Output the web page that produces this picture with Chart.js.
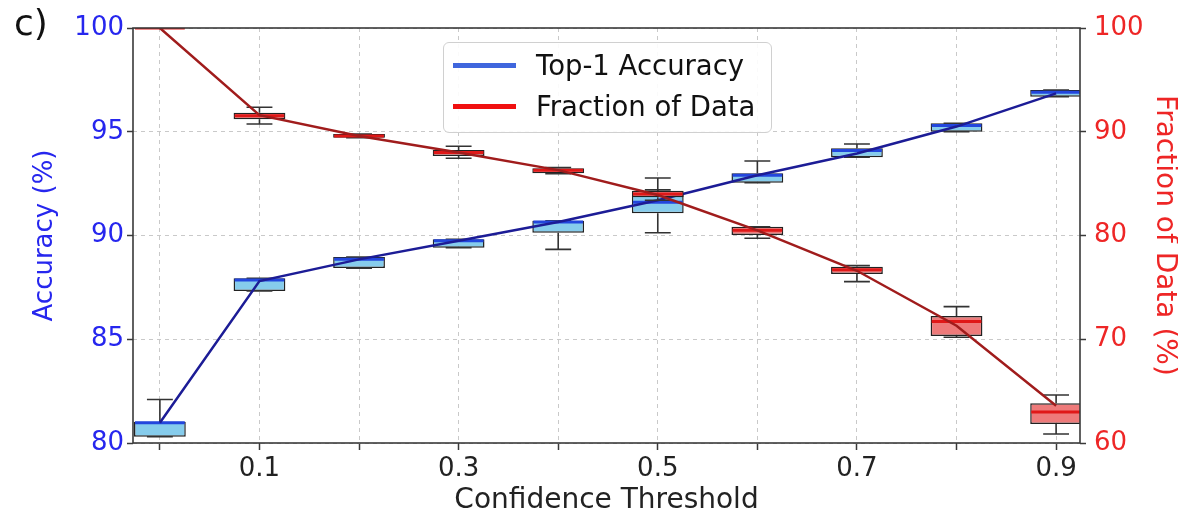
<!DOCTYPE html>
<html>
<head>
<meta charset="utf-8">
<script src="https://cdn.jsdelivr.net/npm/chart.js@4.4.1/dist/chart.umd.min.js"></script>
<style>
  html, body { margin: 0; padding: 0; background: #fff; }
  #wrap { position: relative; width: 1178px; height: 519px; }
  #panelTag {
    position: absolute; left: 14px; top: 2px;
    font: 36px "DejaVu Sans", sans-serif; color: #111;
  }
  #legendBox {
    position: absolute; left: 443px; top: 42px; width: 327px; height: 89px;
    border: 1px solid #d0d0d0; border-radius: 6px; background: rgba(255,255,255,0.9);
    font: 27.5px "DejaVu Sans", sans-serif; color: #111;
  }
  .leg-row { position: absolute; left: 9px; height: 30px; display: flex; align-items: center; }
  .leg-line { width: 63px; height: 5px; margin-right: 20px; }
</style>
</head>
<body>
<div id="wrap">
  <canvas id="chart" width="1178" height="519"></canvas>
  <div id="panelTag">c)</div>
  <div id="legendBox"></div>
</div>
<script>
  // ---- data ----
  const thresholds = [0, 0.1, 0.2, 0.3, 0.4, 0.5, 0.6, 0.7, 0.8, 0.9];
  const xTickLabels = ["", "0.1", "", "0.3", "", "0.5", "", "0.7", "", "0.9"];
  const accTicks = [80, 85, 90, 95, 100];
  const fracTicks = [60, 70, 80, 90, 100];

  // Top-1 accuracy (%), left axis
  const accQ1   = [80.30, 87.33, 88.43, 89.41, 90.13, 91.07, 92.54, 93.77, 95.00, 96.69];
  const accQ3   = [81.03, 87.94, 88.96, 89.82, 90.71, 92.05, 93.00, 94.20, 95.41, 97.01];
  const accMed  = [80.98, 87.85, 88.85, 89.75, 90.65, 91.60, 92.90, 94.10, 95.30, 96.90];
  const accLow  = [80.30, 87.33, 88.43, 89.41, 89.33, 90.13, 92.54, 93.77, 95.00, 96.69];
  const accHigh = [82.10, 87.94, 88.96, 89.82, 90.71, 92.20, 93.59, 94.41, 95.41, 97.01];
  const accMean = [80.98, 87.80, 88.85, 89.75, 90.65, 91.70, 92.90, 93.95, 95.25, 96.85];

  // Fraction of data (%), right axis
  const fracQ1   = [100, 91.20, 89.43, 87.66, 86.00, 83.68, 80.05, 76.29, 70.31, 61.83];
  const fracQ3   = [100, 91.84, 89.78, 88.24, 86.48, 84.32, 80.85, 76.99, 72.24, 63.83];
  const fracMed  = [100, 91.55, 89.60, 88.00, 86.30, 84.00, 80.50, 76.70, 71.70, 63.00];
  const fracLow  = [100, 90.75, 89.43, 87.44, 85.95, 83.40, 79.73, 75.55, 70.20, 60.87];
  const fracHigh = [100, 92.36, 89.78, 88.60, 86.55, 85.54, 80.85, 77.10, 73.14, 64.63];
  const fracMean = [100, 91.60, 89.60, 88.00, 86.30, 83.90, 80.50, 76.60, 71.30, 63.60];

  const legendItems = [
    { label: "Top-1 Accuracy", color: "#3f66dd" },
    { label: "Fraction of Data", color: "#f01010" },
  ];

  const FONT = "DejaVu Sans";
  const BLUE_TXT = "#2626ee";
  const RED_TXT = "#ee2626";
  const AXIS = "#3a3a3a";

  function boxData(q1, q3) {
    return thresholds.map((x, i) => ({ x, y: [q1[i], q3[i]] }));
  }
  function lineData(vals) {
    return thresholds.map((x, i) => ({ x, y: vals[i] }));
  }

  // whiskers + median for each box dataset, drawn right after that dataset
  const boxExtras = {
    acc: { low: accLow, high: accHigh, q1: accQ1, q3: accQ3, med: accMed, medColor: "#2346dd" },
    frac: { low: fracLow, high: fracHigh, q1: fracQ1, q3: fracQ3, med: fracMed, medColor: "#e01818" },
  };

  const boxPlugin = {
    id: "boxExtras",
    afterDatasetDraw(chart, args) {
      const ds = chart.data.datasets[args.index];
      const ex = boxExtras[ds.boxKey];
      if (!ex) return;
      const ctx = chart.ctx;
      const ys = chart.scales[ds.yAxisID];
      const area = chart.chartArea;
      ctx.save();
      ctx.beginPath();
      ctx.rect(area.left, area.top, area.right - area.left, area.bottom - area.top);
      ctx.clip();
      args.meta.data.forEach((bar, i) => {
        const cx = bar.x;
        const half = bar.width / 2;
        const cap = bar.width / 4;
        ctx.strokeStyle = "#333";
        ctx.lineWidth = 1.6;
        ctx.beginPath();
        ctx.moveTo(cx, ys.getPixelForValue(ex.q3[i]));
        ctx.lineTo(cx, ys.getPixelForValue(ex.high[i]));
        ctx.moveTo(cx - cap, ys.getPixelForValue(ex.high[i]));
        ctx.lineTo(cx + cap, ys.getPixelForValue(ex.high[i]));
        ctx.moveTo(cx, ys.getPixelForValue(ex.q1[i]));
        ctx.lineTo(cx, ys.getPixelForValue(ex.low[i]));
        ctx.moveTo(cx - cap, ys.getPixelForValue(ex.low[i]));
        ctx.lineTo(cx + cap, ys.getPixelForValue(ex.low[i]));
        ctx.stroke();
        ctx.strokeStyle = ex.medColor;
        ctx.lineWidth = 3;
        ctx.beginPath();
        const my = ys.getPixelForValue(ex.med[i]);
        ctx.moveTo(cx - half + 1, my);
        ctx.lineTo(cx + half - 1, my);
        ctx.stroke();
      });
      ctx.restore();
    },
  };

  const framePlugin = {
    id: "frame",
    afterDraw(chart) {
      const { ctx, chartArea: a } = chart;
      ctx.save();
      ctx.strokeStyle = AXIS;
      ctx.lineWidth = 1.6;
      ctx.strokeRect(a.left, a.top, a.right - a.left, a.bottom - a.top);
      ctx.restore();
    },
  };

  const boxStyle = {
    type: "bar",
    borderColor: "#222",
    borderWidth: 1.5,
    borderSkipped: false,
    grouped: false,
    barPercentage: 0.52,
    categoryPercentage: 1,
  };

  new Chart(document.getElementById("chart"), {
    data: {
      datasets: [
        Object.assign({}, boxStyle, {
          label: "accBox", boxKey: "acc", yAxisID: "y", order: 4,
          data: boxData(accQ1, accQ3), backgroundColor: "#86ccec",
        }),
        {
          type: "line", label: "Top-1 Accuracy", yAxisID: "y", order: 3,
          data: lineData(accMean), borderColor: "#1c1c96", borderWidth: 2.5,
          pointRadius: 0, tension: 0,
        },
        Object.assign({}, boxStyle, {
          label: "fracBox", boxKey: "frac", yAxisID: "y2", order: 2,
          data: boxData(fracQ1, fracQ3), backgroundColor: "#ee7a7a",
        }),
        {
          type: "line", label: "Fraction of Data", yAxisID: "y2", order: 1,
          data: lineData(fracMean), borderColor: "#a01c1c", borderWidth: 2.5,
          pointRadius: 0, tension: 0,
        },
      ],
    },
    options: {
      responsive: false,
      animation: false,
      devicePixelRatio: 1,
      layout: { padding: { top: 28, left: 0, right: 0, bottom: 0 } },
      plugins: { legend: { display: false }, tooltip: { enabled: false } },
      scales: {
        x: {
          type: "linear",
          offset: false,
          min: -0.027,
          max: 0.924,
          afterBuildTicks: (s) => { s.ticks = thresholds.map((v) => ({ value: v })); },
          afterFit: (s) => { s.height = 76; },
          ticks: {
            autoSkip: false, maxRotation: 0, padding: 4,
            color: "#222", font: { family: FONT, size: 26 },
            callback: (v, i) => xTickLabels[i],
          },
          grid: {
            offset: false,
            color: "#c9c9c9", lineWidth: 1,
            tickColor: AXIS, tickWidth: 1.5, tickLength: 7, tickBorderDash: [],
          },
          border: { display: false, dash: [4, 4] },
          title: {
            display: true, text: "Confidence Threshold", color: "#222",
            font: { family: FONT, size: 28, lineHeight: 1 }, padding: { top: 0, bottom: 4 },
          },
        },
        y: {
          position: "left",
          min: 80, max: 100,
          afterBuildTicks: (s) => { s.ticks = accTicks.map((v) => ({ value: v })); },
          afterFit: (s) => { s.width = 133; },
          ticks: { color: BLUE_TXT, padding: 3, font: { family: FONT, size: 26 } },
          grid: {
            color: "#c9c9c9", lineWidth: 1,
            tickColor: AXIS, tickWidth: 1.5, tickLength: 6, tickBorderDash: [],
          },
          border: { display: false, dash: [4, 4] },
          title: {
            display: true, text: "Accuracy (%)", color: BLUE_TXT,
            font: { family: FONT, size: 26, lineHeight: 1 }, padding: { top: 32, bottom: 0 },
          },
        },
        y2: {
          position: "right",
          min: 60, max: 100,
          afterBuildTicks: (s) => { s.ticks = fracTicks.map((v) => ({ value: v })); },
          afterFit: (s) => { s.width = 98; },
          ticks: { color: RED_TXT, padding: 8, font: { family: FONT, size: 26 } },
          grid: {
            drawOnChartArea: false,
            tickColor: AXIS, tickWidth: 1.5, tickLength: 6, tickBorderDash: [],
          },
          border: { display: false },
          title: {
            display: true, text: "Fraction of Data (%)", color: RED_TXT,
            font: { family: FONT, size: 28, lineHeight: 1 }, padding: { top: 0, bottom: 0 },
          },
        },
      },
    },
    plugins: [boxPlugin, framePlugin],
  });

  // legend (drawn as html text over the plot)
  const legendBox = document.getElementById("legendBox");
  legendItems.forEach((item, i) => {
    const row = document.createElement("div");
    row.className = "leg-row";
    row.style.top = (7 + i * 41) + "px";
    const line = document.createElement("span");
    line.className = "leg-line";
    line.style.background = item.color;
    const txt = document.createElement("span");
    txt.textContent = item.label;
    row.appendChild(line);
    row.appendChild(txt);
    legendBox.appendChild(row);
  });
</script>
</body>
</html>
